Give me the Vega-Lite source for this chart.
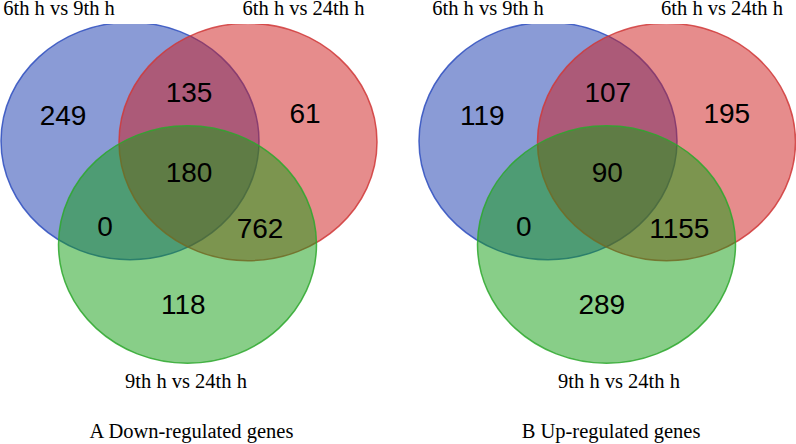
{
  "$schema": "https://vega.github.io/schema/vega-lite/v6.json",
  "autosize": "none",
  "width": 796,
  "height": 420,
  "padding": {"left": 0, "top": 24, "right": 0, "bottom": 0},
  "background": "white",
  "config": {"view": {"stroke": null}},
  "datasets": {
    "sets": [
      {"panel": "A", "set": "6th h vs 9th h", "k": 1, "cx": 130, "cy": 141},
      {"panel": "A", "set": "6th h vs 24th h", "k": 2, "cx": 248, "cy": 142},
      {"panel": "A", "set": "9th h vs 24th h", "k": 3, "cx": 187.5, "cy": 244.5},
      {"panel": "B", "set": "6th h vs 9th h", "k": 4, "cx": 548, "cy": 141},
      {"panel": "B", "set": "6th h vs 24th h", "k": 5, "cx": 666.5, "cy": 142},
      {"panel": "B", "set": "9th h vs 24th h", "k": 6, "cx": 606.5, "cy": 244.5}
    ],
    "counts": [
      {"panel": "A", "region": "only 6-9", "n": "249", "x": 63, "y": 125},
      {"panel": "A", "region": "6-9 & 6-24", "n": "135", "x": 189, "y": 101.7},
      {"panel": "A", "region": "only 6-24", "n": "61", "x": 305, "y": 122.7},
      {"panel": "A", "region": "all", "n": "180", "x": 189, "y": 181.7},
      {"panel": "A", "region": "6-9 & 9-24", "n": "0", "x": 105, "y": 236},
      {"panel": "A", "region": "6-24 & 9-24", "n": "762", "x": 260, "y": 238.3},
      {"panel": "A", "region": "only 9-24", "n": "118", "x": 183.3, "y": 314},
      {"panel": "B", "region": "only 6-9", "n": "119", "x": 482.3, "y": 125},
      {"panel": "B", "region": "6-9 & 6-24", "n": "107", "x": 607.8, "y": 101.7},
      {"panel": "B", "region": "only 6-24", "n": "195", "x": 726.8, "y": 122.7},
      {"panel": "B", "region": "all", "n": "90", "x": 607.3, "y": 181.7},
      {"panel": "B", "region": "6-9 & 9-24", "n": "0", "x": 523.8, "y": 236},
      {"panel": "B", "region": "6-24 & 9-24", "n": "1155", "x": 679.3, "y": 238.3},
      {"panel": "B", "region": "only 9-24", "n": "289", "x": 601.8, "y": 314}
    ],
    "labels": [
      {"panel": "A", "text": "6th h vs 9th h", "x": 59, "y": 15},
      {"panel": "A", "text": "6th h vs 24th h", "x": 303.5, "y": 15},
      {"panel": "A", "text": "9th h vs 24th h", "x": 186, "y": 388},
      {"panel": "A", "text": "A Down-regulated genes", "x": 191.5, "y": 438},
      {"panel": "B", "text": "6th h vs 9th h", "x": 488, "y": 15},
      {"panel": "B", "text": "6th h vs 24th h", "x": 722, "y": 15},
      {"panel": "B", "text": "9th h vs 24th h", "x": 619, "y": 388},
      {"panel": "B", "text": "B Up-regulated genes", "x": 611, "y": 438}
    ]
  },
  "layer": [
    {
      "data": {"name": "sets"},
      "mark": {"type": "point", "filled": true, "fillOpacity": 0.5, "strokeOpacity": 0.85, "strokeWidth": 1.5, "clip": true, "size": 66564,
        "shape": "M 1 0 C 1 0.5078 0.5523 0.92 0 0.92 C -0.5523 0.92 -1 0.5078 -1 0 C -1 -0.5078 -0.5523 -0.92 0 -0.92 C 0.5523 -0.92 1 -0.5078 1 0 Z"},
      "encoding": {
        "x": {"field": "cx", "type": "quantitative", "scale": {"domain": [0, 796]}, "axis": null},
        "y": {"field": "cy", "type": "quantitative", "scale": {"domain": [24, 444], "reverse": true}, "axis": null},
        "order": {"field": "k", "type": "quantitative"},
        "fill": {"field": "set", "type": "nominal", "legend": null, "scale": {"domain": ["6th h vs 9th h", "6th h vs 24th h", "9th h vs 24th h"], "range": ["#1537ad", "#cd1919", "#119d11"]}},
        "stroke": {"field": "set", "type": "nominal", "legend": null, "scale": {"domain": ["6th h vs 9th h", "6th h vs 24th h", "9th h vs 24th h"], "range": ["#3050c0", "#d03a3a", "#2ea82e"]}}
      }
    },
    {
      "data": {"name": "counts"},
      "mark": {"type": "text", "font": "Liberation Sans", "fontSize": 28, "baseline": "alphabetic", "align": "center", "color": "black"},
      "encoding": {
        "x": {"field": "x", "type": "quantitative", "scale": {"domain": [0, 796]}, "axis": null},
        "y": {"field": "y", "type": "quantitative", "scale": {"domain": [24, 444], "reverse": true}, "axis": null},
        "text": {"field": "n"}
      }
    },
    {
      "data": {"name": "labels"},
      "mark": {"type": "text", "font": "Liberation Serif", "fontSize": 20.5, "baseline": "alphabetic", "align": "center", "color": "black"},
      "encoding": {
        "x": {"field": "x", "type": "quantitative", "scale": {"domain": [0, 796]}, "axis": null},
        "y": {"field": "y", "type": "quantitative", "scale": {"domain": [24, 444], "reverse": true}, "axis": null},
        "text": {"field": "text"}
      }
    }
  ]
}
